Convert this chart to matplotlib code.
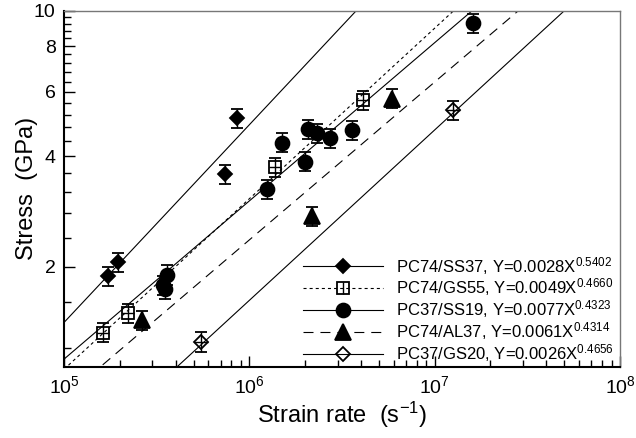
import matplotlib
matplotlib.use("Agg")
import matplotlib.pyplot as plt
import numpy as np
from matplotlib.lines import Line2D
from matplotlib.ticker import FixedLocator, FixedFormatter, NullFormatter

plt.rcParams['font.family'] = ['Liberation Sans', 'DejaVu Sans']
plt.rcParams['mathtext.fontset'] = 'custom'
plt.rcParams['mathtext.rm'] = 'Liberation Sans'
plt.rcParams['mathtext.it'] = 'Liberation Sans:italic'
plt.rcParams['mathtext.bf'] = 'Liberation Sans:bold'
plt.rcParams['lines.scale_dashes'] = False

# Measured strain rate (1/s) and stress (GPa) for each specimen group
ss37_rate = [1.73e5, 1.96e5, 7.4e5, 8.55e5]
ss37_stress = [1.88, 2.06, 3.58, 5.08]

gs55_rate = [1.63e5, 2.22e5, 1.38e6, 4.09e6]
gs55_stress = [1.32, 1.49, 3.73, 5.70]

ss19_rate = [3.58e5, 3.44e5, 3.51e5, 1.25e6, 1.50e6, 2.0e6, 2.08e6, 2.31e6,
             2.73e6, 3.57e6, 1.62e7]
ss19_stress = [1.90, 1.78, 1.74, 3.26, 4.36, 3.87, 4.74, 4.62, 4.48, 4.72, 9.24]

al37_rate = [2.63e5, 2.17e6, 5.85e6]
al37_stress = [1.43, 2.75, 5.75]

gs20_rate = [5.47e5, 1.26e7]
gs20_stress = [1.246, 5.35]

# Power-law fits Y = a * X^b
group_names = ['PC74/SS37', 'PC74/GS55', 'PC37/SS19', 'PC74/AL37', 'PC37/GS20']
fit_a = [0.0028, 0.0049, 0.0077, 0.0061, 0.0026]
fit_b = [0.5402, 0.4660, 0.4323, 0.4314, 0.4656]

rel_err = 0.06  # relative uncertainty of stress

x_ticks = [1e5, 1e6, 1e7, 1e8]
x_tick_labels = [r'$10^{5}$', r'$10^{6}$', r'$10^{7}$', r'$10^{8}$']
y_ticks = [2, 4, 6, 8, 10]
y_tick_labels = ['2', '4', '6', '8', '10']

fig = plt.figure(figsize=(6.36, 4.38), dpi=100)
ax = fig.add_axes([64/636, 1 - 367/438, 556/636, 356.3/438])
ax.set_xscale('log')
ax.set_yscale('log')
ax.set_xlim(1e5, 1e8)
ax.set_ylim(1.063, 10)

line_styles = ['-', (0, (2.2, 2.2)), '-', (0, (7.2, 5.0)), '-']
xs = np.logspace(5, 8, 400)
for a, b, ls in zip(fit_a, fit_b, line_styles):
    ax.plot(xs, a * xs ** b, color='k', lw=0.8, ls=ls, zorder=1)

marker_specs = [
    dict(marker='D', ms=7.5, mfc='k'),
    dict(marker='s', ms=8.5, mfc='none'),
    dict(marker='o', ms=10, mfc='k'),
    dict(marker='^', ms=11, mfc='k'),
    dict(marker='D', ms=7.5, mfc='none'),
]
datasets = [(ss37_rate, ss37_stress), (gs55_rate, gs55_stress),
            (ss19_rate, ss19_stress), (al37_rate, al37_stress),
            (gs20_rate, gs20_stress)]

for (rx, ry), spec in zip(datasets, marker_specs):
    rx = np.array(rx)
    ry = np.array(ry)
    ax.errorbar(rx, ry, yerr=ry * rel_err, fmt=spec['marker'], ms=spec['ms'],
                mfc=spec['mfc'], mec='k', mew=1.3, ecolor='k', elinewidth=1,
                capsize=4.3, capthick=1, zorder=3)
    if spec['mfc'] == 'none':
        hl = spec['ms'] * (1.41 if spec['marker'] == 'D' else 1.0)
        ax.plot(rx, ry, ls='none', marker='_', ms=hl, mec='k', mew=1, zorder=4)

ax.xaxis.set_major_locator(FixedLocator(x_ticks))
ax.xaxis.set_major_formatter(FixedFormatter(x_tick_labels))
minor_x = [m * 10 ** e for e in range(5, 8) for m in range(2, 10)]
ax.xaxis.set_minor_locator(FixedLocator(minor_x))
ax.xaxis.set_minor_formatter(NullFormatter())

ax.yaxis.set_major_locator(FixedLocator(y_ticks))
ax.yaxis.set_major_formatter(FixedFormatter(y_tick_labels))
minor_y = [v for v in np.round(np.arange(1.2, 10.0, 0.4), 1) if v not in (2.0, 4.0, 6.0, 8.0)]
ax.yaxis.set_minor_locator(FixedLocator(minor_y))
ax.yaxis.set_minor_formatter(NullFormatter())

ax.tick_params(which='both', direction='in', top=False, right=False,
               labelsize=14, width=1, color='k')
ax.tick_params(which='major', length=8, pad=6)
ax.tick_params(which='minor', length=5)

for side in ('left', 'bottom'):
    ax.spines[side].set_linewidth(1.5)
    ax.spines[side].set_color('k')
for side in ('top', 'right'):
    ax.spines[side].set_linewidth(1.0)
    ax.spines[side].set_color('#777777')

ax.set_xlabel(r'Strain rate  (s$^{-1}$)', fontsize=17, labelpad=2)
ax.set_ylabel('Stress  (GPa)', fontsize=17, labelpad=-3)

handles = []
for ls, spec in zip(line_styles, marker_specs):
    h = Line2D([], [], color='k', lw=0.8, ls=ls, marker=spec['marker'],
               ms=spec['ms'], mfc=spec['mfc'], mec='k', mew=1.3)
    if spec['marker'] == 's':
        h = (h, Line2D([], [], ls='none', marker='|', ms=spec['ms'], mec='k', mew=1))
    handles.append(h)
labels = [f'{n}, Y={a:.4f}X$^{{{b:.4f}}}$' for n, a, b in zip(group_names, fit_a, fit_b)]
ax.legend(handles, labels, loc='lower left', bbox_to_anchor=(0.43, 0.008),
          frameon=False, fontsize=12, handlelength=4.8, handletextpad=0.75,
          labelspacing=0.0, borderpad=0, borderaxespad=0)

fig.savefig('out.png', dpi=100)
